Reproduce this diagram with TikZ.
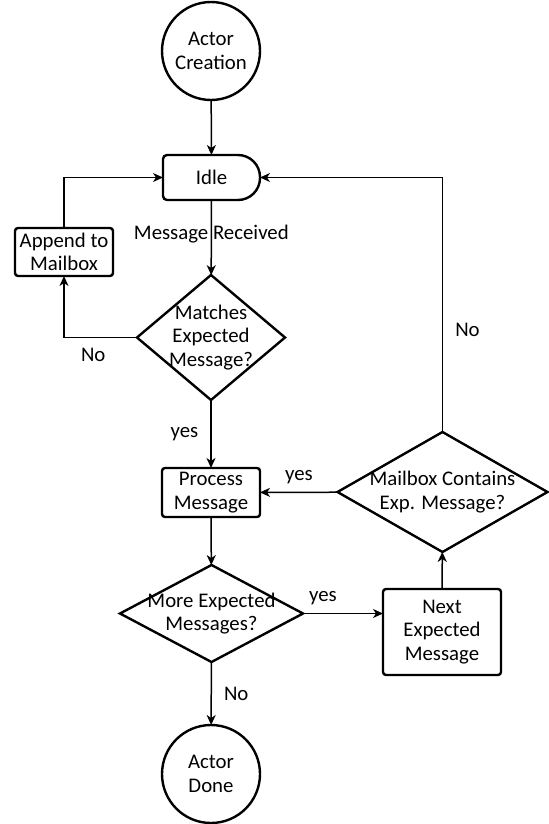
\documentclass[tikz,border=0pt]{standalone}
\usepackage{fontspec}
\setmainfont{Carlito}
\usetikzlibrary{arrows.meta,shapes.geometric}
\begin{document}
\begin{tikzpicture}[x=0.5pt,y=-0.5pt,
  font=\fontsize{10.4}{11.8}\selectfont,
  shp/.style={draw, line width=1.2pt, align=center, inner sep=0pt, outer sep=0pt},
  term/.style={shp, circle, minimum size=49pt},
  box/.style={shp, rectangle, rounded corners=1.5pt},
  dec/.style={shp, diamond, inner sep=-10pt},
  arr/.style={draw, line width=0.75pt, -{Stealth[length=5pt,width=4.5pt,inset=1.5pt]}},
  lbl/.style={inner sep=2pt}]
\useasboundingbox (0,0) rectangle (548,824);

\node[term] (start) at (211,51) {Actor\\Creation};
\node[rectangle, minimum width=48.5pt, minimum height=22.5pt, inner sep=0pt, outer sep=0pt] (idle) at (211.5,177.5) {Idle};
\draw[line width=1.2pt, rounded corners=2pt] (idle.west) -- (idle.north west) -- (idle.north)
  [rounded corners=11pt] -- (idle.north east) -- (idle.south east) -- (idle.south)
  [rounded corners=2pt] -- (idle.south west) -- cycle;
\node[box, minimum width=49pt, minimum height=24pt] (append) at (64,252) {Append to\\Mailbox};
\node[dec, minimum width=74pt, minimum height=62.5pt] (match) at (211,337.5) {Matches\\Expected\\Message?};
\node[box, minimum width=49pt, minimum height=24.5pt] (process) at (211,492.5) {Process\\Message};
\node[dec, minimum width=105pt, minimum height=60pt] (mailbox) at (442.5,492) {Mailbox Contains\\Exp. Message?};
\node[dec, minimum width=91.5pt, minimum height=48.5pt] (more) at (211.5,613.5) {More Expected\\Messages?};
\node[box, minimum width=59pt, minimum height=43pt] (next) at (442,632) {Next\\Expected\\Message};
\node[term] (done) at (211,774) {Actor\\Done};

\draw[arr] (start) -- (idle);
\draw[arr] (append) |- (idle);
\draw[arr] (idle) -- node[lbl, pos=0.45] {Message Received} (match);
\draw[arr] (match) -| node[lbl, pos=0.3, below=3pt] {No} (append);
\draw[arr] (match) -- node[lbl, midway, left=4pt] {yes} (process);
\draw[arr] (mailbox) -- node[lbl, midway, above=2pt] {yes} (process);
\draw[arr] (mailbox) |- node[lbl, pos=0.2, right=4pt] {No} (idle);
\draw[arr] (process) -- (more);
\draw[arr] (more.east) -- node[lbl, pos=0.25, above=2pt] {yes} (more.east -| next.west);
\draw[arr] (next) -- (mailbox);
\draw[arr] (more) -- node[lbl, midway, right=4pt] {No} (done);
\end{tikzpicture}
\end{document}
